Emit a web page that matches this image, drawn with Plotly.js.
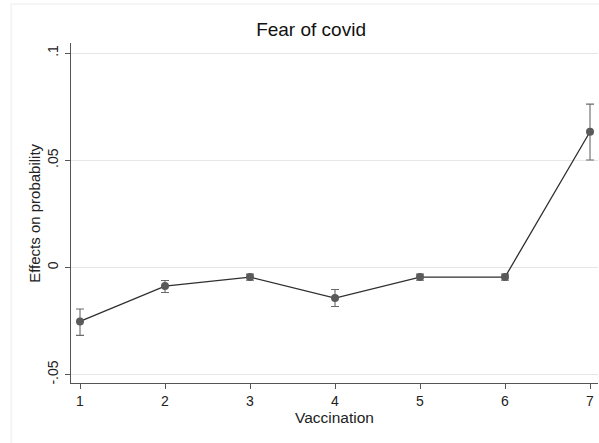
<!DOCTYPE html>
<html>
<head>
<meta charset="utf-8">
<script src="https://cdn.plot.ly/plotly-3.0.1.min.js"></script>
<style>
  html, body { margin: 0; padding: 0; background: #fff; }
  #chart { width: 599px; height: 443px; }
</style>
</head>
<body>
<div id="chart"></div>
<script>
// Vaccination levels and estimated effects with confidence bounds
const vaccination = [1, 2, 3, 4, 5, 6, 7];
const effect = [-0.0252, -0.0087, -0.0045, -0.0143, -0.0045, -0.0045, 0.0633];
const upper = [-0.0194, -0.0061, -0.0031, -0.0103, -0.0031, -0.0031, 0.0762];
const lower = [-0.0317, -0.0117, -0.0060, -0.0182, -0.0060, -0.0060, 0.0501];
const yTickVals = [-0.05, 0, 0.05, 0.1];
const yTickText = ['-.05', '0', '.05', '.1'];
const yTitle = 'Effects on probability';

const errPlus = upper.map((u, i) => u - effect[i]);
const errMinus = effect.map((e, i) => e - lower[i]);

const trace = {
  x: vaccination,
  y: effect,
  type: 'scatter',
  mode: 'lines+markers',
  line: { color: '#2f2f2f', width: 1.3 },
  marker: { color: '#5a5a5a', size: 8 },
  error_y: {
    type: 'data',
    symmetric: false,
    array: errPlus,
    arrayminus: errMinus,
    color: '#6a6a6a',
    thickness: 1.1,
    width: 4
  },
  hoverinfo: 'x+y'
};

const layout = {
  width: 599,
  height: 443,
  margin: { l: 71, r: 1, t: 43, b: 60 },
  paper_bgcolor: '#ffffff',
  plot_bgcolor: '#ffffff',
  font: { family: 'Liberation Sans, Arial, sans-serif', color: '#222' },
  showlegend: false,
  title: {
    text: 'Fear of covid',
    font: { size: 19, color: '#111' },
    x: 0.4555,
    xref: 'paper',
    xanchor: 'center',
    y: 1 - 29 / 443,
    yanchor: 'middle'
  },
  xaxis: {
    range: [0.894, 7.094],
    tickvals: vaccination,
    ticks: 'outside',
    ticklen: 5,
    tickcolor: '#555',
    showgrid: false,
    zeroline: false,
    showline: true,
    linecolor: '#555',
    linewidth: 1,
    tickfont: { size: 14, color: '#222' },
    title: { text: 'Vaccination', font: { size: 15.5, color: '#222' }, standoff: 3 }
  },
  yaxis: {
    range: [-0.0539, 0.1047],
    tickvals: yTickVals,
    ticktext: yTickText,
    tickangle: -90,
    ticks: 'outside',
    ticklen: 5,
    tickcolor: '#555',
    ticklabelstandoff: 1,
    showgrid: true,
    gridcolor: '#e6e6e6',
    gridwidth: 1,
    zeroline: false,
    showline: true,
    linecolor: '#555',
    linewidth: 1,
    tickfont: { size: 14, color: '#222' }
  },
  annotations: [
    {
      text: yTitle,
      xref: 'paper', yref: 'paper',
      x: -0.0705, y: 0.5,
      xanchor: 'center', yanchor: 'middle',
      textangle: -90,
      showarrow: false,
      font: { size: 15, color: '#222' }
    }
  ],
  shapes: [
    {
      type: 'rect',
      xref: 'paper', yref: 'paper',
      x0: -0.1136, x1: 1.05, y0: -0.2, y1: 1.1147,
      line: { color: '#ececec', width: 1 },
      fillcolor: 'rgba(0,0,0,0)',
      layer: 'below'
    }
  ]
};

Plotly.newPlot('chart', [trace], layout, { displayModeBar: false, staticPlot: true });
</script>
</body>
</html>
